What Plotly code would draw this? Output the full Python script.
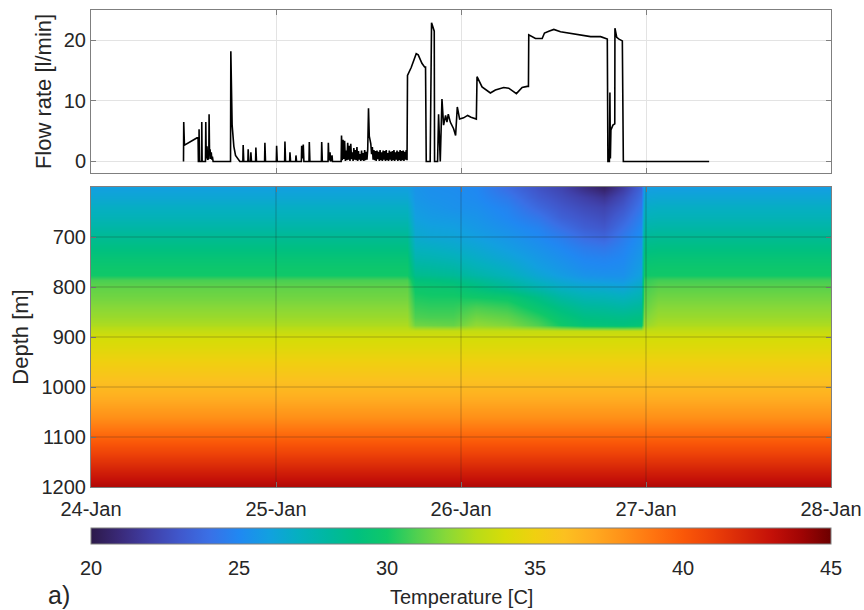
import pandas as pd
import plotly.graph_objects as go

# ---------------- flow rate record (hours after 24-Jan 00:00, l/min) ----------------
flow_hours = [
    12.00, 12.03, 12.12, 13.89, 13.93, 14.00, 14.02, 14.08, 14.35, 14.37, 14.42,
    14.85, 14.89, 14.95, 15.05, 15.12, 15.28, 15.32, 15.38, 15.45, 15.52, 15.60,
    15.68, 15.75, 15.84, 18.10, 18.14, 18.31, 18.53, 18.75, 19.09, 19.31,
    19.70, 19.74, 19.82, 20.35, 20.39, 20.47, 20.70, 20.74, 20.82,
    21.35, 21.39, 21.47, 22.52, 22.56, 22.64, 24.04, 24.08, 24.16,
    25.12, 25.16, 25.24, 25.77, 25.81, 25.89, 26.55, 26.59, 26.67,
    27.29, 27.33, 27.42, 27.54, 27.62, 28.28, 28.32, 28.40,
    29.89, 29.93, 30.01, 30.75, 30.79, 30.87, 31.01, 31.08, 31.27, 31.33, 32.45,
]
flow_rate = [
    0.0, 6.5, 2.7, 4.0, 0.0, 0.0, 5.3, 0.0, 0.0, 6.5, 0.0,
    0.0, 6.5, 0.5, 2.5, 0.3, 0.5, 7.8, 1.2, 2.0, 0.4, 1.5,
    0.3, 0.8, 0.0, 0.0, 18.2, 6.0, 2.5, 1.0, 0.3, 0.0,
    0.0, 2.7, 0.0, 0.0, 2.0, 0.0, 0.0, 1.5, 0.0,
    0.0, 2.3, 0.0, 0.0, 3.1, 0.0, 0.0, 2.6, 0.0,
    0.0, 3.3, 0.0, 0.0, 1.5, 0.0, 0.0, 1.0, 0.0,
    0.0, 2.6, 0.5, 2.8, 0.0, 0.0, 3.2, 0.0,
    0.0, 3.2, 0.0, 0.0, 3.1, 0.2, 1.5, 0.0, 1.0, 0.0, 0.0,
]

# intermittent pumping logged every 6 minutes from 32.5 h
burst_start_h = 32.5
burst_step_h = 0.1
burst_rate = [
    4.3, 0.2, 3.6, 0.4, 3.4, 0.1, 1.8, 0.2, 3.1, 0.3,
    2.6, 0.1, 2.9, 0.4, 1.5, 0.1, 2.2, 0.3, 1.9, 0.2,
    2.4, 0.1, 1.7, 0.3, 1.2, 0.1, 1.8, 0.2, 1.4, 0.1,
    1.9, 0.2, 1.6, 0.3, 2.0, 8.8, 4.2, 3.6, 2.9, 1.2,
    2.4, 0.3, 1.9, 0.2, 1.7, 0.1, 1.8, 0.4, 1.6, 0.1,
    1.9, 0.2, 1.5, 0.1, 1.8, 0.3, 1.7, 0.1, 1.9, 0.2,
    1.4, 0.1, 1.8, 0.3, 1.6, 0.1, 1.7, 0.2, 1.9, 0.1,
    1.5, 0.3, 1.8, 0.1, 1.6, 0.2, 1.9, 0.1, 1.7, 0.2,
    1.8, 0.1, 1.6, 0.3, 1.9, 0.2,
]

# continuous injection and shut-in
late_hours = [
    41.06, 41.54, 42.19, 42.45, 42.93, 43.27, 43.40, 43.49, 44.00, 44.18, 44.44,
    44.53, 44.57, 44.96, 45.09, 45.31, 45.53, 45.74, 46.00, 46.18, 46.35, 46.61,
    47.04, 47.30, 47.52, 47.82, 48.34, 48.86, 49.30, 49.99, 50.08, 50.73, 51.81,
    52.46, 53.54, 54.19, 55.19, 55.93, 56.58, 56.75, 56.79, 57.66, 58.53, 58.83,
    59.39, 60.04, 60.91, 61.78, 63.51, 64.81, 66.11, 66.98, 67.06, 67.25, 67.32,
    67.38, 67.45, 67.71, 67.95, 67.97, 68.20, 68.50, 68.93, 69.06, 80.19,
]
late_rate = [
    14.2, 15.5, 17.8, 17.6, 16.2, 15.6, 15.6, 0.0, 0.0, 22.9, 21.6,
    21.5, 0.0, 0.0, 7.8, 0.0, 10.3, 6.0, 7.6, 6.5, 7.8, 6.5,
    5.4, 4.3, 9.0, 7.0, 7.2, 7.6, 7.3, 7.0, 14.0, 12.3, 11.3,
    11.8, 12.2, 12.1, 11.2, 12.2, 12.4, 12.4, 20.9, 20.3, 20.3, 21.2,
    21.5, 21.8, 21.4, 21.2, 20.8, 20.6, 20.6, 20.2, 0.0, 0.0, 11.4,
    0.5, 5.2, 6.0, 6.2, 22.0, 20.5, 20.2, 19.9, 0.0, 0.0,
]

# ---------------- DTS temperature section ----------------
depth_m = [600, 620, 640, 660, 680, 700, 720, 740, 760, 775, 785, 800, 820, 840,
           860, 876, 888, 900, 920, 940, 960, 980, 1000, 1020, 1040, 1060, 1080,
           1100, 1120, 1140, 1160, 1180, 1200]
# undisturbed profile before injection
temp_before = [26.0, 26.4, 26.9, 27.3, 27.8, 28.4, 28.9, 29.4, 29.8, 30.0, 30.9,
               31.3, 31.6, 32.0, 32.4, 32.8, 33.4, 33.9, 34.3, 34.8, 35.3, 35.8,
               36.3, 36.8, 37.4, 38.0, 38.8, 39.6, 40.4, 41.2, 42.0, 42.8, 43.6]
# profile after shut-in
temp_after = [25.9, 26.4, 26.9, 27.3, 27.8, 28.4, 28.9, 29.4, 29.8, 30.0, 30.8,
              31.2, 31.6, 32.0, 32.4, 32.8, 33.4, 33.9, 34.3, 34.8, 35.3, 35.8,
              36.3, 36.8, 37.4, 38.0, 38.8, 39.6, 40.4, 41.2, 42.0, 42.8, 43.6]
# first hours of recovery (upper 16 levels, 600-876 m)
temp_recovery = [25.9, 26.3, 26.8, 27.2, 27.7, 28.3, 28.8, 29.3, 29.7, 30.0, 30.5,
                 30.8, 31.1, 31.4, 31.8, 32.3]
recovery_hour = 71.8
before_hours = [0.0, 41.0]
after_hours = [73.5, 96.0]

# cooled interval during injection, levels 600-876 m
cool_hours = [42.0, 44.0, 47.0, 50.0, 54.0, 58.0, 61.0, 64.0, 66.5, 69.0, 71.3]
cool_temp = [
    [25.5, 25.6, 25.8, 26.0, 26.3, 26.6, 27.0, 27.5, 28.1, 28.6, 29.2, 29.8, 30.2, 30.6, 31.0, 31.6],
    [25.3, 25.4, 25.6, 25.8, 26.1, 26.4, 26.9, 27.4, 28.0, 28.5, 29.1, 29.7, 30.1, 30.5, 30.9, 31.5],
    [25.2, 25.3, 25.4, 25.7, 26.0, 26.3, 26.7, 27.2, 27.8, 28.3, 28.9, 29.6, 30.1, 30.5, 30.9, 31.4],
    [25.0, 25.1, 25.3, 25.5, 25.7, 26.0, 26.4, 26.8, 27.3, 27.8, 28.4, 29.1, 30.0, 30.9, 31.6, 32.2],
    [23.9, 24.4, 24.8, 25.0, 25.3, 25.6, 25.9, 26.3, 26.8, 27.2, 27.7, 28.4, 29.8, 30.6, 31.3, 31.9],
    [22.8, 23.2, 23.7, 24.3, 24.8, 25.1, 25.4, 25.7, 26.0, 26.4, 26.8, 27.5, 28.8, 29.6, 30.4, 31.0],
    [22.2, 22.6, 23.0, 23.4, 24.0, 24.6, 25.0, 25.3, 25.6, 25.9, 26.3, 26.9, 27.9, 28.8, 29.5, 30.0],
    [21.2, 22.0, 22.5, 22.9, 23.3, 23.9, 24.5, 24.9, 25.2, 25.5, 25.9, 26.6, 27.4, 28.2, 28.9, 29.4],
    [20.5, 21.5, 22.2, 22.6, 23.0, 23.6, 24.3, 24.8, 25.1, 25.4, 25.8, 26.5, 27.3, 28.1, 28.8, 29.3],
    [21.8, 22.5, 23.0, 23.5, 24.0, 24.5, 24.8, 25.0, 25.2, 25.4, 25.7, 26.3, 27.1, 27.9, 28.7, 29.2],
    [23.5, 23.9, 24.3, 24.7, 25.0, 25.3, 25.5, 25.7, 25.9, 26.1, 26.4, 26.9, 27.5, 28.2, 28.9, 29.4],
]

temp_ticks = [20, 25, 30, 35, 40, 45]
depth_ticks = [700, 800, 900, 1000, 1100, 1200]
flow_ticks = [0, 10, 20]
date_ticks = ["2019-01-24", "2019-01-25", "2019-01-26", "2019-01-27", "2019-01-28"]

# colour scale of the temperature bar
cmap_temp = [20, 21, 22, 23, 24, 25, 26, 27, 28, 29, 30, 31, 32, 33, 34, 35, 36,
             37, 38, 39, 40, 41, 42, 43, 44, 45]
cmap_color = ["#2d1a4a", "#3a2a7a", "#4040a8", "#4058cc", "#3a70e6", "#2088f2",
              "#12a0e0", "#05b0c0", "#00b8a0", "#00c080", "#10c868", "#50d050",
              "#88d838", "#b8dc18", "#d8dc08", "#f0d010", "#fcc020", "#ffaa20",
              "#ff9018", "#ff7410", "#fa5808", "#ec4008", "#d82808", "#c41008",
              "#a00404", "#6c0000"]

# ---------------- assemble ----------------
t0 = pd.Timestamp("2019-01-24")


def to_time(hours):
    return [t0 + pd.Timedelta(hours=h) for h in hours]


all_hours = (flow_hours
             + [burst_start_h + i * burst_step_h for i in range(len(burst_rate))]
             + late_hours)
all_rate = flow_rate + burst_rate + late_rate

n_cool = len(cool_temp[0])
columns = []
col_hours = []
for h in before_hours:
    col_hours.append(h)
    columns.append(list(temp_before))
for h, prof in zip(cool_hours, cool_temp):
    col_hours.append(h)
    columns.append(list(prof) + temp_before[n_cool:])
col_hours.append(recovery_hour)
columns.append(list(temp_recovery) + temp_after[n_cool:])
for h in after_hours:
    col_hours.append(h)
    columns.append(list(temp_after))
z = [[columns[j][i] for j in range(len(columns))] for i in range(len(depth_m))]

lo, hi = cmap_temp[0], cmap_temp[-1]
colorscale = [[(v - lo) / (hi - lo), c] for v, c in zip(cmap_temp, cmap_color)]

FONT = "Liberation Sans, Arial, sans-serif"
TXT = "#262626"
SPINE = "#7f7f7f"
TICK_SIZE = 20
TITLE_SIZE = 22

# colour bar placement (paper units of the 477 px high plotting area)
CB_TOP = -0.086
CB_THICK_PX = 16
CB_BOTTOM = CB_TOP - CB_THICK_PX / 477

fig = go.Figure()
fig.add_trace(go.Scatter(
    x=to_time(all_hours), y=all_rate, mode="lines",
    line=dict(color="black", width=1.6), xaxis="x", yaxis="y",
    showlegend=False, hoverinfo="skip",
))
fig.add_trace(go.Heatmap(
    x=to_time(col_hours), y=depth_m, z=z, zmin=lo, zmax=hi,
    colorscale=colorscale, zsmooth="best", xaxis="x2", yaxis="y2",
    colorbar=dict(
        orientation="h", x=0.5, xanchor="center", y=CB_TOP, yanchor="top",
        len=740, lenmode="pixels", thickness=CB_THICK_PX, ypad=0, xpad=0,
        outlinecolor=SPINE, outlinewidth=1,
        ticks="outside", ticklen=7, tickcolor="rgba(0,0,0,0)", tickvals=temp_ticks,
        tickfont=dict(family=FONT, size=TICK_SIZE, color=TXT),
    ),
))

axis_common = dict(showline=True, linecolor=SPINE, linewidth=1, mirror="ticks",
                   ticks="inside", ticklen=5, tickcolor=SPINE,
                   tickfont=dict(family=FONT, size=TICK_SIZE, color=TXT), zeroline=False,
                   automargin=False)

fig.update_layout(
    width=864, height=610,
    margin=dict(l=91, r=33, t=10, b=123),
    paper_bgcolor="white", plot_bgcolor="white",
    font=dict(family=FONT, color=TXT),
    xaxis=dict(domain=[0, 1], anchor="y", matches="x2", type="date",
               range=[date_ticks[0], date_ticks[-1]], tickvals=date_ticks,
               showticklabels=False, showgrid=True, gridcolor="#e3e3e3",
               **axis_common),
    yaxis=dict(domain=[0.6583, 1.0], anchor="x", range=[-1.9, 25],
               tickvals=flow_ticks, showgrid=True, gridcolor="#e3e3e3",
               title=dict(text="Flow rate [l/min]",
                          font=dict(family=FONT, size=TITLE_SIZE, color=TXT), standoff=6),
               **axis_common),
    xaxis2=dict(domain=[0, 1], anchor="y2", type="date",
                range=[date_ticks[0], date_ticks[-1]], tickvals=date_ticks,
                tickformat="%d-%b", showgrid=False, ticklabelstandoff=4,
                **axis_common),
    yaxis2=dict(domain=[0, 0.6289], anchor="x2", range=[1200, 600],
                tickvals=depth_ticks, showgrid=False,
                title=dict(text="Depth [m]",
                           font=dict(family=FONT, size=TITLE_SIZE, color=TXT), standoff=6),
                **axis_common),
)

# grid drawn over the temperature section
grid_line = dict(color="rgba(30,30,30,0.28)", width=1)
for d in date_ticks[1:-1]:
    fig.add_shape(type="line", xref="x2", yref="y2 domain", x0=d, x1=d, y0=0, y1=1,
                  line=grid_line, layer="above")
for dep in depth_ticks[:-1]:
    fig.add_shape(type="line", xref="x2 domain", yref="y2", x0=0, x1=1, y0=dep, y1=dep,
                  line=grid_line, layer="above")

# short tick marks inside the colour bar, rising from its lower edge
for v in temp_ticks[1:-1]:
    xp = (v - lo) / (hi - lo)
    fig.add_shape(type="line", xref="paper", yref="paper", x0=xp, x1=xp,
                  y0=CB_BOTTOM, y1=CB_BOTTOM + 6 / 477,
                  line=dict(color="#303030", width=1), layer="above")

fig.add_annotation(text="Temperature [C]", xref="paper", yref="paper", x=0.5, y=-0.2306,
                   xanchor="center", yanchor="middle", showarrow=False,
                   font=dict(family=FONT, size=TICK_SIZE, color=TXT))
fig.add_annotation(text="a)", xref="paper", yref="paper", x=-0.043, y=-0.226,
                   xanchor="center", yanchor="middle", showarrow=False,
                   font=dict(family=FONT, size=25, color=TXT))

fig.write_html("out.html")
